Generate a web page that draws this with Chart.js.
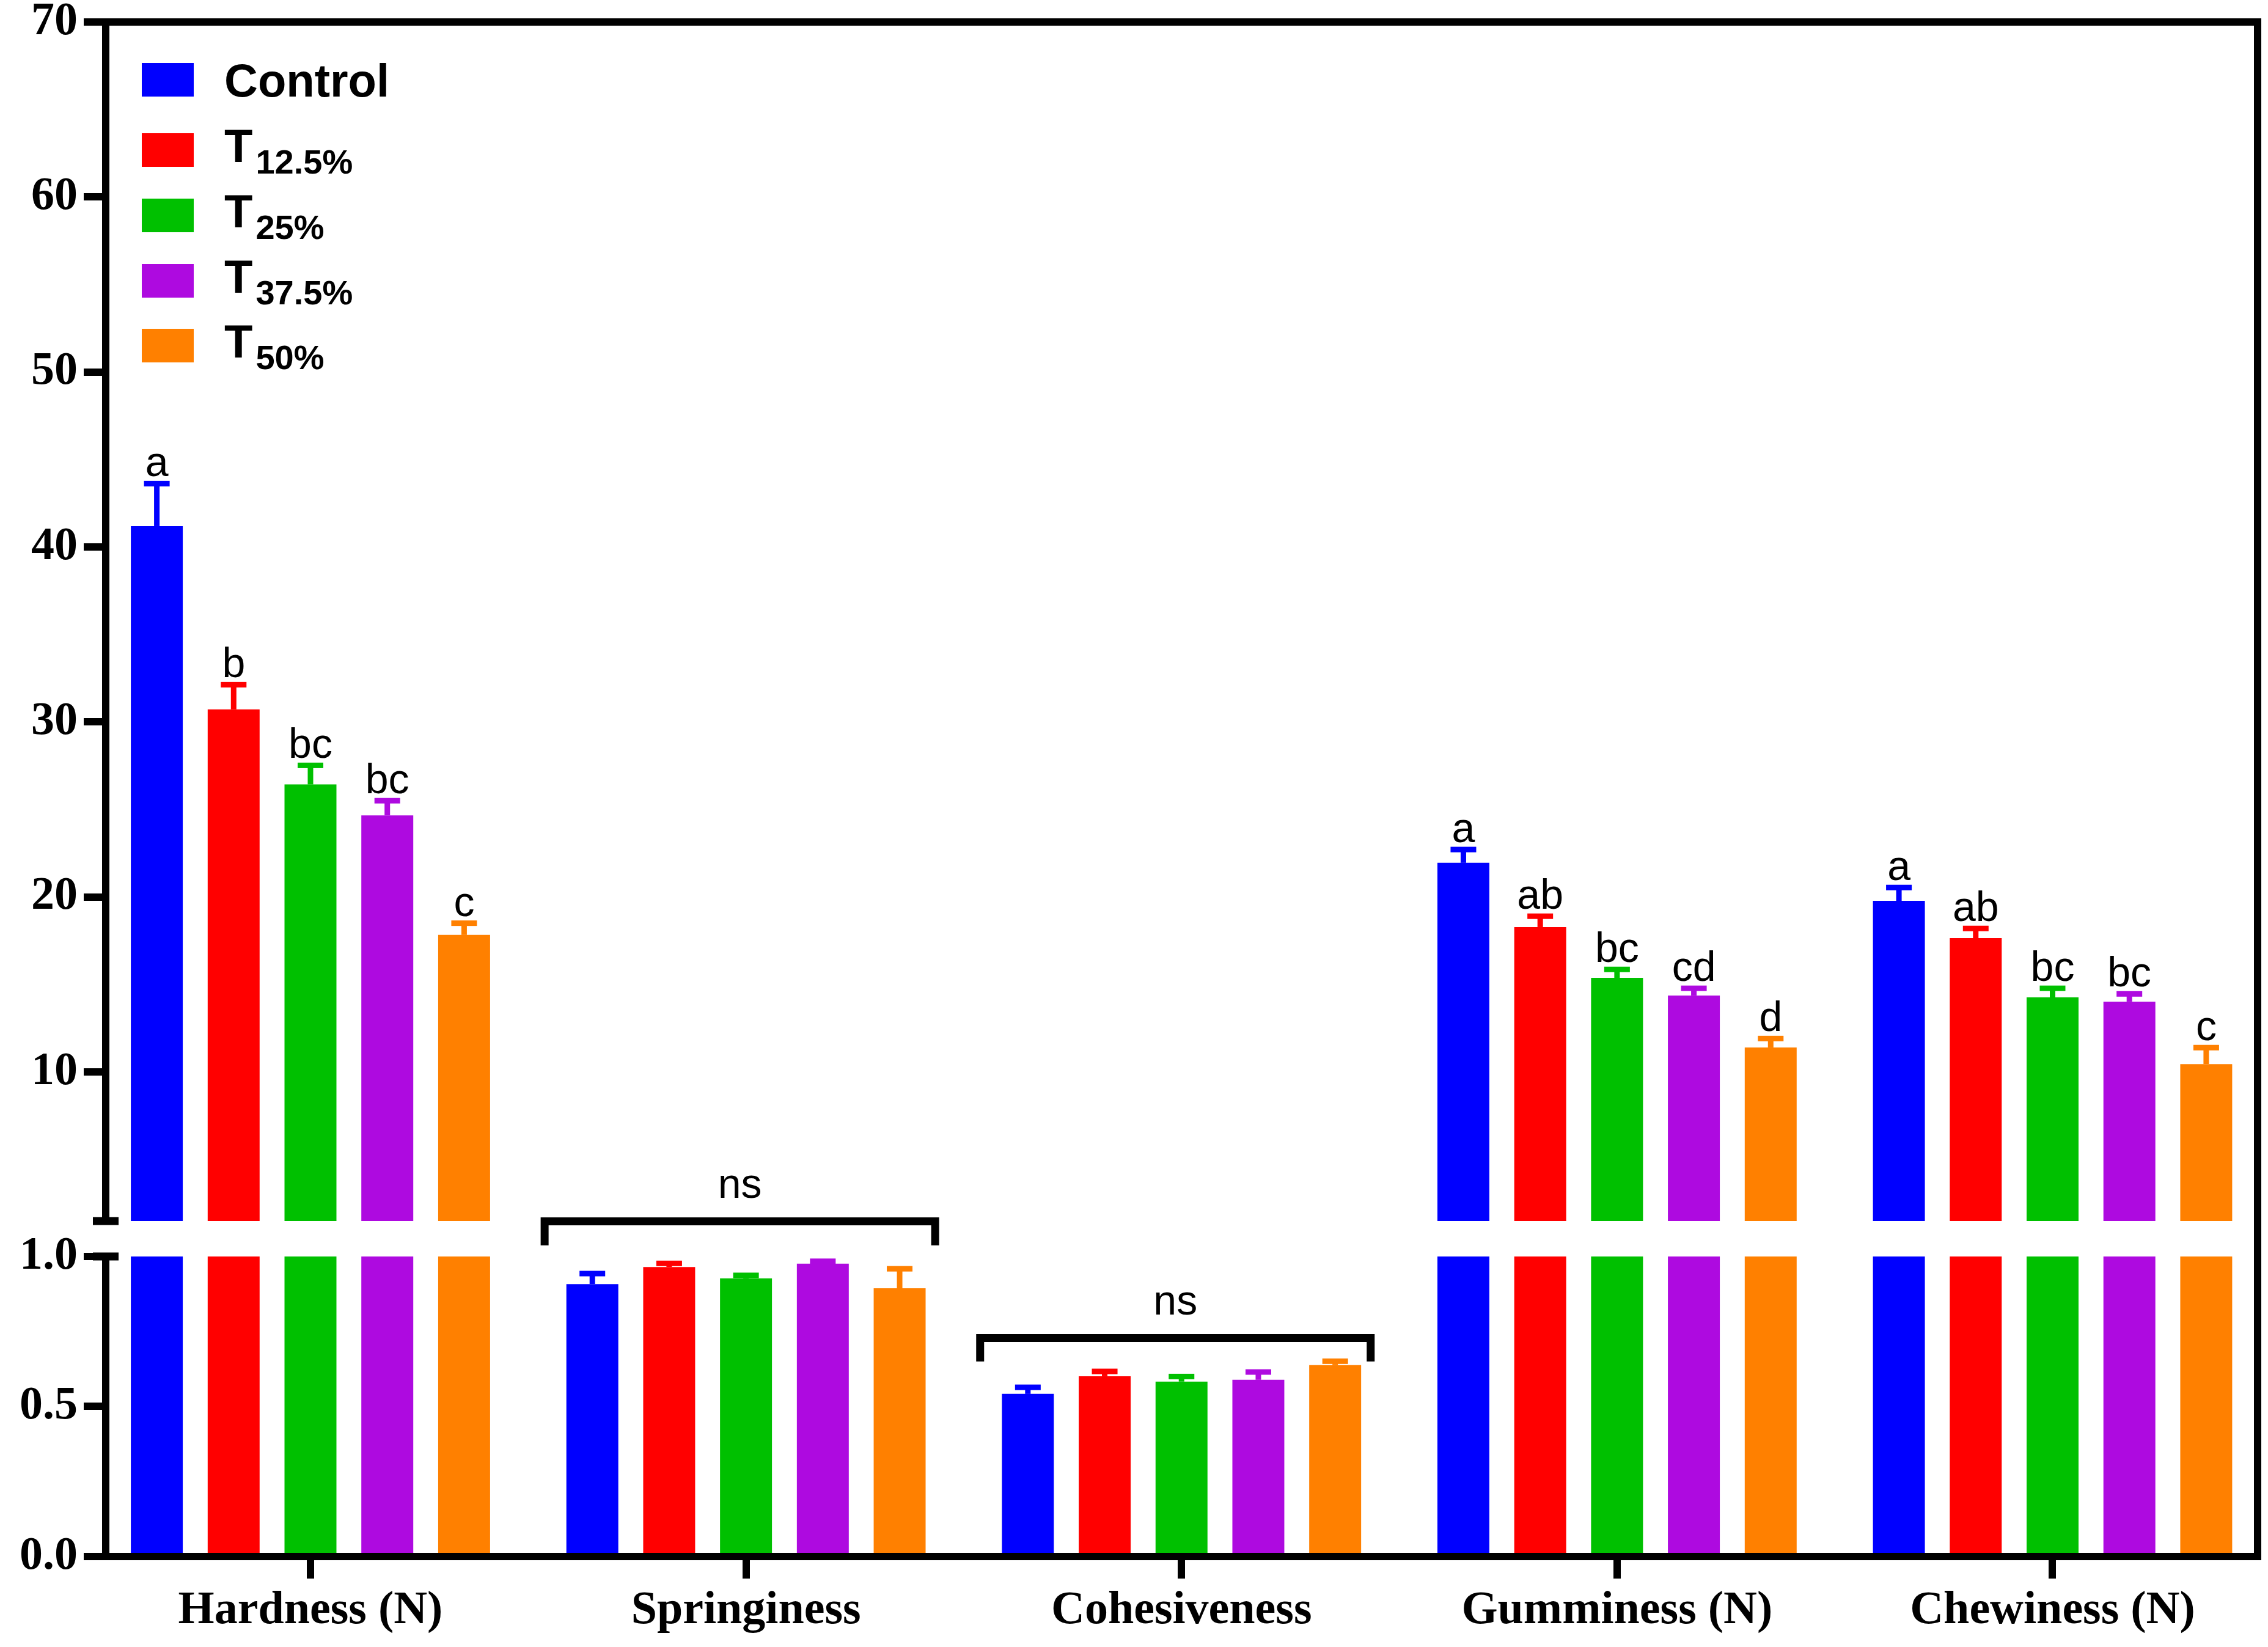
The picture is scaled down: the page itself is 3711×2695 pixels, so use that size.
<!DOCTYPE html>
<html><head><meta charset="utf-8">
<script src="https://cdn.jsdelivr.net/npm/chart.js@4"></script>
<style>html,body{margin:0;padding:0;background:#fff;}canvas{display:block;}</style>
</head><body>
<canvas id="c" width="3711" height="2695" style="width:3711px;height:2695px"></canvas>
<script>
// ---------- data ----------
const categories = ['Hardness (N)', 'Springiness', 'Cohesiveness', 'Gumminess (N)', 'Chewiness (N)'];
const seriesNames = ['Control', 'T12.5%', 'T25%', 'T37.5%', 'T50%'];

const controlMeans = [41.19, 0.908, 0.542, 21.95, 19.78];
const t125Means    = [30.72, 0.965, 0.601, 18.28, 17.65];
const t25Means     = [26.43, 0.927, 0.583, 15.38, 14.26];
const t375Means    = [24.66, 0.976, 0.589, 14.37, 14.02];
const t50Means     = [17.83, 0.894, 0.638, 11.40, 10.45];

const controlErrors = [2.43, 0.035, 0.022, 0.76, 0.76];
const t125Errors    = [1.41, 0.012, 0.016, 0.62, 0.55];
const t25Errors     = [1.09, 0.010, 0.017, 0.48, 0.52];
const t375Errors    = [0.84, 0.008, 0.026, 0.41, 0.44];
const t50Errors     = [0.67, 0.065, 0.013, 0.51, 0.94];

const controlLetters = ['a', '', '', 'a', 'a'];
const t125Letters    = ['b', '', '', 'ab', 'ab'];
const t25Letters     = ['bc', '', '', 'bc', 'bc'];
const t375Letters    = ['bc', '', '', 'cd', 'bc'];
const t50Letters     = ['c', '', '', 'd', 'c'];

const nsCategories = [1, 2];          // groups marked "ns"
const nsText = 'ns';

const lowerTicks = [0, 0.5, 1.0];
const lowerTickLabels = ['0.0', '0.5', '1.0'];
const upperTicks = [10, 20, 30, 40, 50, 60, 70];
const upperTickLabels = ['10', '20', '30', '40', '50', '60', '70'];

// ---------- axis segment ranges ----------
const LOW_TOP = 1.0;        // top of lower segment
const LOW_AXIS_MAX = 1.1181; // includes the break gap
const HIGH_MIN = 1.48;
const HIGH_MAX = 70;

// ---------- styles ----------
const colors = ['#0000FF', '#FF0000', '#00C000', '#AE0AE0', '#FF8000'];
const nsBrackets = [{level: 1.117, legEnd: 1.037}, {level: 0.728, legEnd: 0.650}]; // in lower-axis units
const LINE = 12;

const means = [controlMeans, t125Means, t25Means, t375Means, t50Means];
const errors = [controlErrors, t125Errors, t25Errors, t375Errors, t50Errors];
const letters = [controlLetters, t125Letters, t25Letters, t375Letters, t50Letters];

const datasets = [];
means.forEach((m, s) => {
  datasets.push({
    label: seriesNames[s], series: s, part: 'low', yAxisID: 'yLow', stack: 'g' + s,
    backgroundColor: colors[s], borderWidth: 0,
    data: m.map((v, i) => ({x: i, y: Math.min(v, LOW_TOP)}))
  });
  datasets.push({
    label: seriesNames[s], series: s, part: 'high', yAxisID: 'yHigh', stack: 'g' + s,
    backgroundColor: colors[s], borderWidth: 0,
    data: m.map((v, i) => ({x: i, y: v > HIGH_MIN ? v : null}))
  });
});

const serifBold = {family: '"Liberation Serif", "Times New Roman", serif', weight: 'bold', size: 76};

function zeroPad(s) { s.paddingLeft = 0; s.paddingRight = 0; s.paddingTop = 0; s.paddingBottom = 0; }

const decorPlugin = {
  id: 'decor',
  afterDatasetsDraw(chart) {
    const ctx = chart.ctx;
    const ca = chart.chartArea;
    const yH = chart.scales.yHigh, yL = chart.scales.yLow, xS = chart.scales.x;
    ctx.save();
    // error bars and letters
    chart.data.datasets.forEach((ds, di) => {
      const meta = chart.getDatasetMeta(di);
      const s = ds.series;
      meta.data.forEach((bar, i) => {
        const v = means[s][i];
        const high = v > HIGH_MIN;
        if ((ds.part === 'high') !== high) return;
        const sc = high ? yH : yL;
        const yTop = sc.getPixelForValue(v + errors[s][i]);
        const yBar = sc.getPixelForValue(v);
        const x = bar.x;
        ctx.fillStyle = colors[s];
        ctx.fillRect(x - 4.5, yTop, 9, yBar - yTop);
        ctx.fillRect(x - 21, yTop - 4.5, 42, 9);
        const t = letters[s][i];
        if (t) {
          ctx.fillStyle = '#000';
          ctx.font = '68px "Liberation Sans", Arial, sans-serif';
          ctx.textAlign = 'center';
          ctx.textBaseline = 'alphabetic';
          ctx.fillText(t, x, yTop - 12);
        }
      });
    });
    // ns brackets
    nsCategories.forEach((c, k) => {
      const cx = xS.getPixelForValue(c) - 10;
      const yb = yL.getPixelForValue(nsBrackets[k].level);
      const yl = yL.getPixelForValue(nsBrackets[k].legEnd);
      ctx.strokeStyle = '#000';
      ctx.lineWidth = 13;
      ctx.lineJoin = 'miter';
      ctx.lineCap = 'butt';
      ctx.beginPath();
      ctx.moveTo(cx - 319.5, yl);
      ctx.lineTo(cx - 319.5, yb);
      ctx.lineTo(cx + 319.5, yb);
      ctx.lineTo(cx + 319.5, yl);
      ctx.stroke();
      ctx.fillStyle = '#000';
      ctx.font = '68px "Liberation Sans", Arial, sans-serif';
      ctx.textAlign = 'center';
      ctx.textBaseline = 'alphabetic';
      ctx.fillText(nsText, cx, yb - 39);
    });
    // frame and broken left axis
    ctx.fillStyle = '#000';
    const h = LINE / 2;
    const ax = ca.left;
    const upperEnd = yH.bottom;
    const lowerStart = yL.getPixelForValue(LOW_TOP);
    ctx.fillRect(ax - h, ca.top - h, LINE, upperEnd - ca.top + h);          // upper left segment
    ctx.fillRect(ax - 21, upperEnd - 6.5, 42, 13);                         // break cap
    ctx.fillRect(ax - h, lowerStart, LINE, ca.bottom - lowerStart + h);    // lower left segment
    ctx.fillRect(ax - 21, lowerStart - 6.5, 42, 13);                       // break cap
    ctx.fillRect(ax - h, ca.top - h, ca.right - ax + LINE, LINE);          // top
    ctx.fillRect(ca.right - h, ca.top - h, LINE, ca.bottom - ca.top + LINE); // right
    ctx.fillRect(ax - h, ca.bottom - h, ca.right - ax + LINE, LINE);       // bottom
    ctx.restore();
  },
  afterDraw(chart) {
    const ctx = chart.ctx;
    ctx.save();
    const boxX = 232, boxW = 85, boxH = 55, textX = 367;
    const boxTops = [103, 218, 325, 432, 538];
    seriesNames.forEach((name, s) => {
      const top = boxTops[s];
      ctx.fillStyle = colors[s];
      ctx.fillRect(boxX, top, boxW, boxH);
      ctx.fillStyle = '#000';
      ctx.textAlign = 'left';
      ctx.textBaseline = 'alphabetic';
      const mid = top + boxH / 2;
      if (name.length > 1 && name[0] === 'T' && /\d/.test(name[1])) {
        const base = name[0], sub = name.slice(1);
        ctx.font = 'bold 76px "Liberation Sans", Arial, sans-serif';
        const by = mid + 19;
        ctx.fillText(base, textX, by);
        const w = ctx.measureText(base).width;
        ctx.font = 'bold 56px "Liberation Sans", Arial, sans-serif';
        ctx.fillText(sub, textX + w + 5, by + 19);
      } else {
        ctx.font = 'bold 76px "Liberation Sans", Arial, sans-serif';
        ctx.fillText(name, textX, mid + 27.5);
      }
    });
    ctx.restore();
  }
};

new Chart(document.getElementById('c'), {
  type: 'bar',
  data: {datasets},
  plugins: [decorPlugin],
  options: {
    responsive: false,
    devicePixelRatio: 1,
    animation: false,
    layout: {padding: {top: 36, right: 17, left: 0, bottom: 0}},
    plugins: {legend: {display: false}, tooltip: {enabled: false}},
    datasets: {bar: {categoryPercentage: 0.882, barPercentage: 0.676}},
    scales: {
      x: {
        type: 'linear', min: -0.4701, max: 4.4708, offset: false,
        afterBuildTicks: s => { s.ticks = categories.map((c, i) => ({value: i})); },
        afterFit: s => { s.height = 148; zeroPad(s); },
        ticks: {callback: v => categories[v], font: serifBold, color: '#000', padding: 8, maxRotation: 0, minRotation: 0, autoSkip: false},
        grid: {offset: false, drawOnChartArea: false, drawTicks: true, tickLength: 36, lineWidth: LINE, color: '#000'},
        border: {display: false}
      },
      yHigh: {
        type: 'linear', position: 'left', stack: 'v', stackWeight: 1962, weight: 2,
        min: HIGH_MIN, max: HIGH_MAX, stacked: false,
        afterBuildTicks: s => { s.ticks = upperTicks.map(v => ({value: v})); },
        afterFit: s => { s.width = 173; zeroPad(s); },
        ticks: {callback: (v, i) => upperTickLabels[i], font: serifBold, color: '#000', padding: 10},
        grid: {offset: false, drawOnChartArea: false, drawTicks: true, tickLength: 36, lineWidth: LINE, color: '#000'},
        border: {display: false}
      },
      yLow: {
        type: 'linear', position: 'left', stack: 'v', stackWeight: 549, weight: 1,
        min: 0, max: LOW_AXIS_MAX, stacked: false,
        afterBuildTicks: s => { s.ticks = lowerTicks.map(v => ({value: v})); },
        afterFit: s => { s.width = 173; zeroPad(s); },
        ticks: {callback: (v, i) => lowerTickLabels[i], font: serifBold, color: '#000', padding: 10},
        grid: {offset: false, drawOnChartArea: false, drawTicks: true, tickLength: 36, lineWidth: LINE, color: '#000'},
        border: {display: false}
      }
    }
  }
});
</script>
</body></html>
